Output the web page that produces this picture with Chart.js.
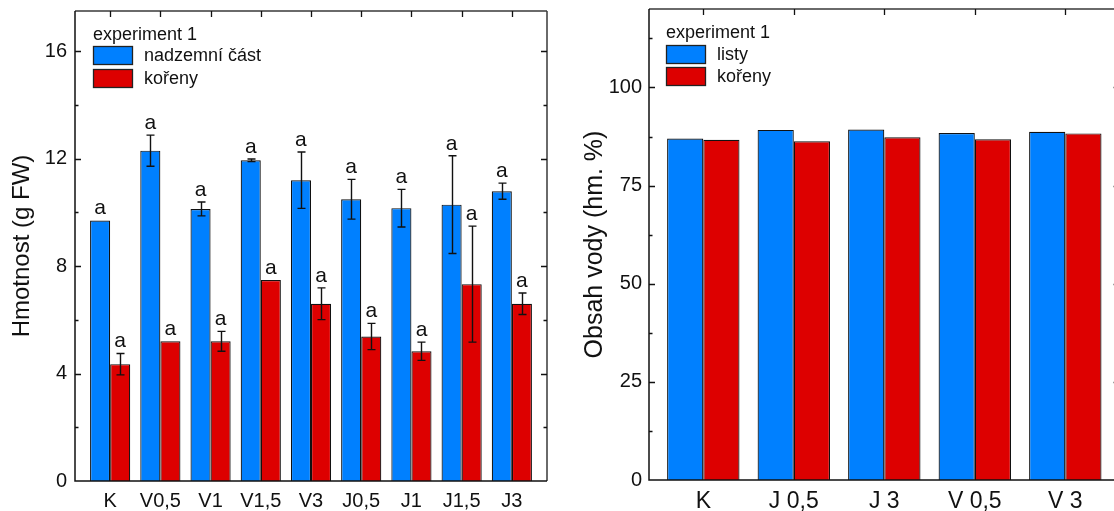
<!DOCTYPE html>
<html lang="cs">
<head>
<meta charset="utf-8">
<title>Hmotnost a obsah vody</title>
<script src="https://cdn.jsdelivr.net/npm/chart.js@4.4.1/dist/chart.umd.min.js"></script>
<style>
  html, body { margin: 0; padding: 0; background: #fff; overflow: hidden; width: 1114px; height: 511px; }
  .panel { position: absolute; top: 0; }
  #leftBox { left: 0; width: 560px; height: 511px; }
  #rightBox { left: 560px; width: 570px; height: 511px; }
</style>
</head>
<body>
<div id="leftBox" class="panel"><canvas id="massChart" width="560" height="511"></canvas></div>
<div id="rightBox" class="panel"><canvas id="waterChart" width="570" height="511"></canvas></div>
<script>
// ---- mass (g FW) ----
const massCategories = ['K', 'V0,5', 'V1', 'V1,5', 'V3', 'J0,5', 'J1', 'J1,5', 'J3'];
const shootMass = [9.7, 12.3, 10.13, 11.94, 11.2, 10.49, 10.16, 10.29, 10.79];
const shootErr  = [0, 0.58, 0.26, 0.05, 1.05, 0.74, 0.7, 1.82, 0.3];
const rootMass  = [4.35, 5.2, 5.2, 7.48, 6.6, 5.38, 4.83, 7.33, 6.6];
const rootErr   = [0.4, 0, 0.37, 0, 0.59, 0.49, 0.34, 2.16, 0.4];
const shootLetters = ['a', 'a', 'a', 'a', 'a', 'a', 'a', 'a', 'a'];
const rootLetters  = ['a', 'a', 'a', 'a', 'a', 'a', 'a', 'a', 'a'];
const massTicks = [0, 4, 8, 12, 16];
const massMinorTicks = [2, 6, 10, 14];

// ---- water content (hm. %) ----
const waterCategories = ['K', 'J 0,5', 'J 3', 'V 0,5', 'V 3'];
const leafWater = [87.0, 89.2, 89.3, 88.4, 88.7];
const rootWater = [86.7, 86.3, 87.3, 86.8, 88.3];
const waterTicks = [0, 25, 50, 75, 100];
const waterMinorTicks = [12.5, 37.5, 62.5, 87.5, 112.5];

const FONT = '"Liberation Sans", Arial, Helvetica, sans-serif';
const BLUE = '#0080FF';
const RED = '#DD0000';

function points(values) {
  return values.map((v, i) => ({ x: i, y: v }));
}

// Frame with inward ticks: left/right major+minor, top ticks at category centres
function framePlugin(majors, minors, count) {
  return {
    id: 'frame',
    afterDraw(chart) {
      const { ctx, chartArea: a, scales: { x, y } } = chart;
      ctx.save();
      ctx.lineCap = 'butt';
      ctx.strokeStyle = '#3a3a3a';
      ctx.lineWidth = 1.5;
      ctx.beginPath();
      ctx.moveTo(a.left, a.top); ctx.lineTo(a.right, a.top);
      ctx.moveTo(a.right, a.top); ctx.lineTo(a.right, a.bottom);
      ctx.stroke();
      ctx.strokeStyle = '#111';
      ctx.beginPath();
      ctx.moveTo(a.left, a.top); ctx.lineTo(a.left, a.bottom);
      ctx.moveTo(a.left - 0.75, a.bottom); ctx.lineTo(a.right, a.bottom);
      ctx.stroke();
      ctx.lineWidth = 1.3;
      ctx.beginPath();
      majors.forEach(v => {
        const py = Math.round(y.getPixelForValue(v)) + 0.5;
        if (v !== 0) {
          ctx.moveTo(a.left, py); ctx.lineTo(a.left + 6, py);
          ctx.moveTo(a.right, py); ctx.lineTo(a.right - 6, py);
        }
      });
      minors.forEach(v => {
        const py = Math.round(y.getPixelForValue(v)) + 0.5;
        ctx.moveTo(a.left, py); ctx.lineTo(a.left + 3.5, py);
        ctx.moveTo(a.right, py); ctx.lineTo(a.right - 3.5, py);
      });
      for (let i = 0; i < count; i++) {
        const px = Math.round(x.getPixelForValue(i)) + 0.5;
        ctx.moveTo(px, a.top); ctx.lineTo(px, a.top + 6);
      }
      ctx.stroke();
      ctx.restore();
    }
  };
}

// Error bars and significance letters above each bar
function errorPlugin(errors, letters) {
  return {
    id: 'errs',
    afterDatasetsDraw(chart) {
      const { ctx, scales: { y } } = chart;
      ctx.save();
      ctx.strokeStyle = '#111';
      ctx.lineWidth = 1.4;
      ctx.fillStyle = '#111';
      ctx.font = '21px ' + FONT;
      ctx.textAlign = 'center';
      ctx.textBaseline = 'alphabetic';
      chart.data.datasets.forEach((ds, di) => {
        const meta = chart.getDatasetMeta(di);
        meta.data.forEach((bar, i) => {
          const v = ds.data[i].y;
          const e = errors[di][i];
          const top = y.getPixelForValue(v + e);
          if (e > 0) {
            const bot = y.getPixelForValue(v - e);
            const bx = Math.round(bar.x) + 0.5;
            ctx.beginPath();
            ctx.moveTo(bx, top); ctx.lineTo(bx, bot);
            ctx.moveTo(bx - 4, top); ctx.lineTo(bx + 4, top);
            ctx.moveTo(bx - 4, bot); ctx.lineTo(bx + 4, bot);
            ctx.stroke();
          }
          ctx.fillText(letters[di][i], bar.x, top - 6);
        });
      });
      ctx.restore();
    }
  };
}

// Legend box inside the plot area
function legendPlugin(title, entries, pos) {
  return {
    id: 'boxLegend',
    afterDraw(chart) {
      const { ctx } = chart;
      ctx.save();
      ctx.font = '18px ' + FONT;
      ctx.fillStyle = '#111';
      ctx.textAlign = 'left';
      ctx.textBaseline = 'middle';
      ctx.fillText(title, pos.x, pos.titleY);
      entries.forEach((en, i) => {
        const by = pos.boxY[i];
        ctx.fillStyle = en.color;
        ctx.fillRect(pos.x, by, 40, 19);
        ctx.strokeStyle = '#222';
        ctx.lineWidth = 1.3;
        ctx.strokeRect(pos.x + 0.5, by + 0.5, 39, 18);
        ctx.fillStyle = '#111';
        ctx.fillText(en.label, pos.x + 51, by + 10);
      });
      ctx.restore();
    }
  };
}

function makeChart(canvasId, cfg) {
  const labels = cfg.categories;
  return new Chart(document.getElementById(canvasId), {
    type: 'bar',
    data: {
      datasets: cfg.series.map(s => ({
        label: s.label,
        data: points(s.values),
        backgroundColor: s.color,
        borderColor: '#111',
        borderWidth: 1.2,
        categoryPercentage: 0.8,
        barPercentage: 1.0
      }))
    },
    options: {
      responsive: false,
      animation: false,
      devicePixelRatio: 1,
      layout: { padding: cfg.padding },
      plugins: { legend: { display: false }, tooltip: { enabled: false } },
      scales: {
        x: {
          type: 'linear',
          min: cfg.xMin,
          max: cfg.xMax,
          offset: false,
          grid: { display: false, drawTicks: false },
          border: { display: false },
          afterBuildTicks: s => { s.ticks = labels.map((_, i) => ({ value: i })); },
          afterFit: s => { s.height = cfg.xHeight; s.paddingLeft = 0; s.paddingRight = 0; },
          ticks: {
            autoSkip: false,
            maxRotation: 0,
            padding: cfg.xPad,
            color: '#111',
            font: { family: FONT, size: cfg.xFont },
            callback: v => labels[v] !== undefined ? labels[v] : ''
          }
        },
        y: {
          min: 0,
          max: cfg.yMax,
          grid: { display: false, drawTicks: false },
          border: { display: false },
          afterBuildTicks: s => { s.ticks = cfg.yTicks.map(v => ({ value: v })); },
          afterFit: s => { s.width = cfg.yWidth; s.paddingTop = 0; s.paddingBottom = 0; },
          ticks: {
            padding: cfg.yPad,
            color: '#111',
            font: { family: FONT, size: cfg.yFont }
          },
          title: {
            display: true,
            text: cfg.yTitle,
            color: '#111',
            font: { family: FONT, size: cfg.titleFont },
            padding: { top: cfg.titlePad, bottom: 0 }
          }
        }
      }
    },
    plugins: cfg.plugins
  });
}

makeChart('massChart', {
  categories: massCategories,
  series: [
    { label: 'nadzemní část', values: shootMass, color: BLUE },
    { label: 'kořeny', values: rootMass, color: RED }
  ],
  xMin: -0.7, xMax: 8.7, yMax: 17.5,
  yTicks: massTicks,
  padding: { left: 0, top: 11, right: 13, bottom: 0 },
  xHeight: 30, yWidth: 75,
  xPad: 8, yPad: 8, xFont: 20, yFont: 20,
  yTitle: 'Hmotnost (g FW)', titleFont: 24, titlePad: 8,
  plugins: [
    framePlugin(massTicks, massMinorTicks, massCategories.length),
    errorPlugin([shootErr, rootErr], [shootLetters, rootLetters]),
    legendPlugin('experiment 1', [
      { label: 'nadzemní část', color: BLUE },
      { label: 'kořeny', color: RED }
    ], { x: 93, titleY: 35, boxY: [46, 69] })
  ]
});

makeChart('waterChart', {
  categories: waterCategories,
  series: [
    { label: 'listy', values: leafWater, color: BLUE },
    { label: 'kořeny', values: rootWater, color: RED }
  ],
  xMin: -0.6, xMax: 4.6, yMax: 120,
  yTicks: waterTicks,
  padding: { left: 0, top: 9, right: 10.4, bottom: 0 },
  xHeight: 31, yWidth: 89,
  xPad: 8, yPad: 7, xFont: 23, yFont: 20,
  yTitle: 'Obsah vody (hm. %)', titleFont: 25, titlePad: 20,
  plugins: [
    framePlugin(waterTicks, waterMinorTicks, waterCategories.length),
    errorPlugin([[0, 0, 0, 0, 0], [0, 0, 0, 0, 0]], [['', '', '', '', ''], ['', '', '', '', '']]),
    legendPlugin('experiment 1', [
      { label: 'listy', color: BLUE },
      { label: 'kořeny', color: RED }
    ], { x: 106, titleY: 33, boxY: [45, 67] })
  ]
});
</script>
</body>
</html>
